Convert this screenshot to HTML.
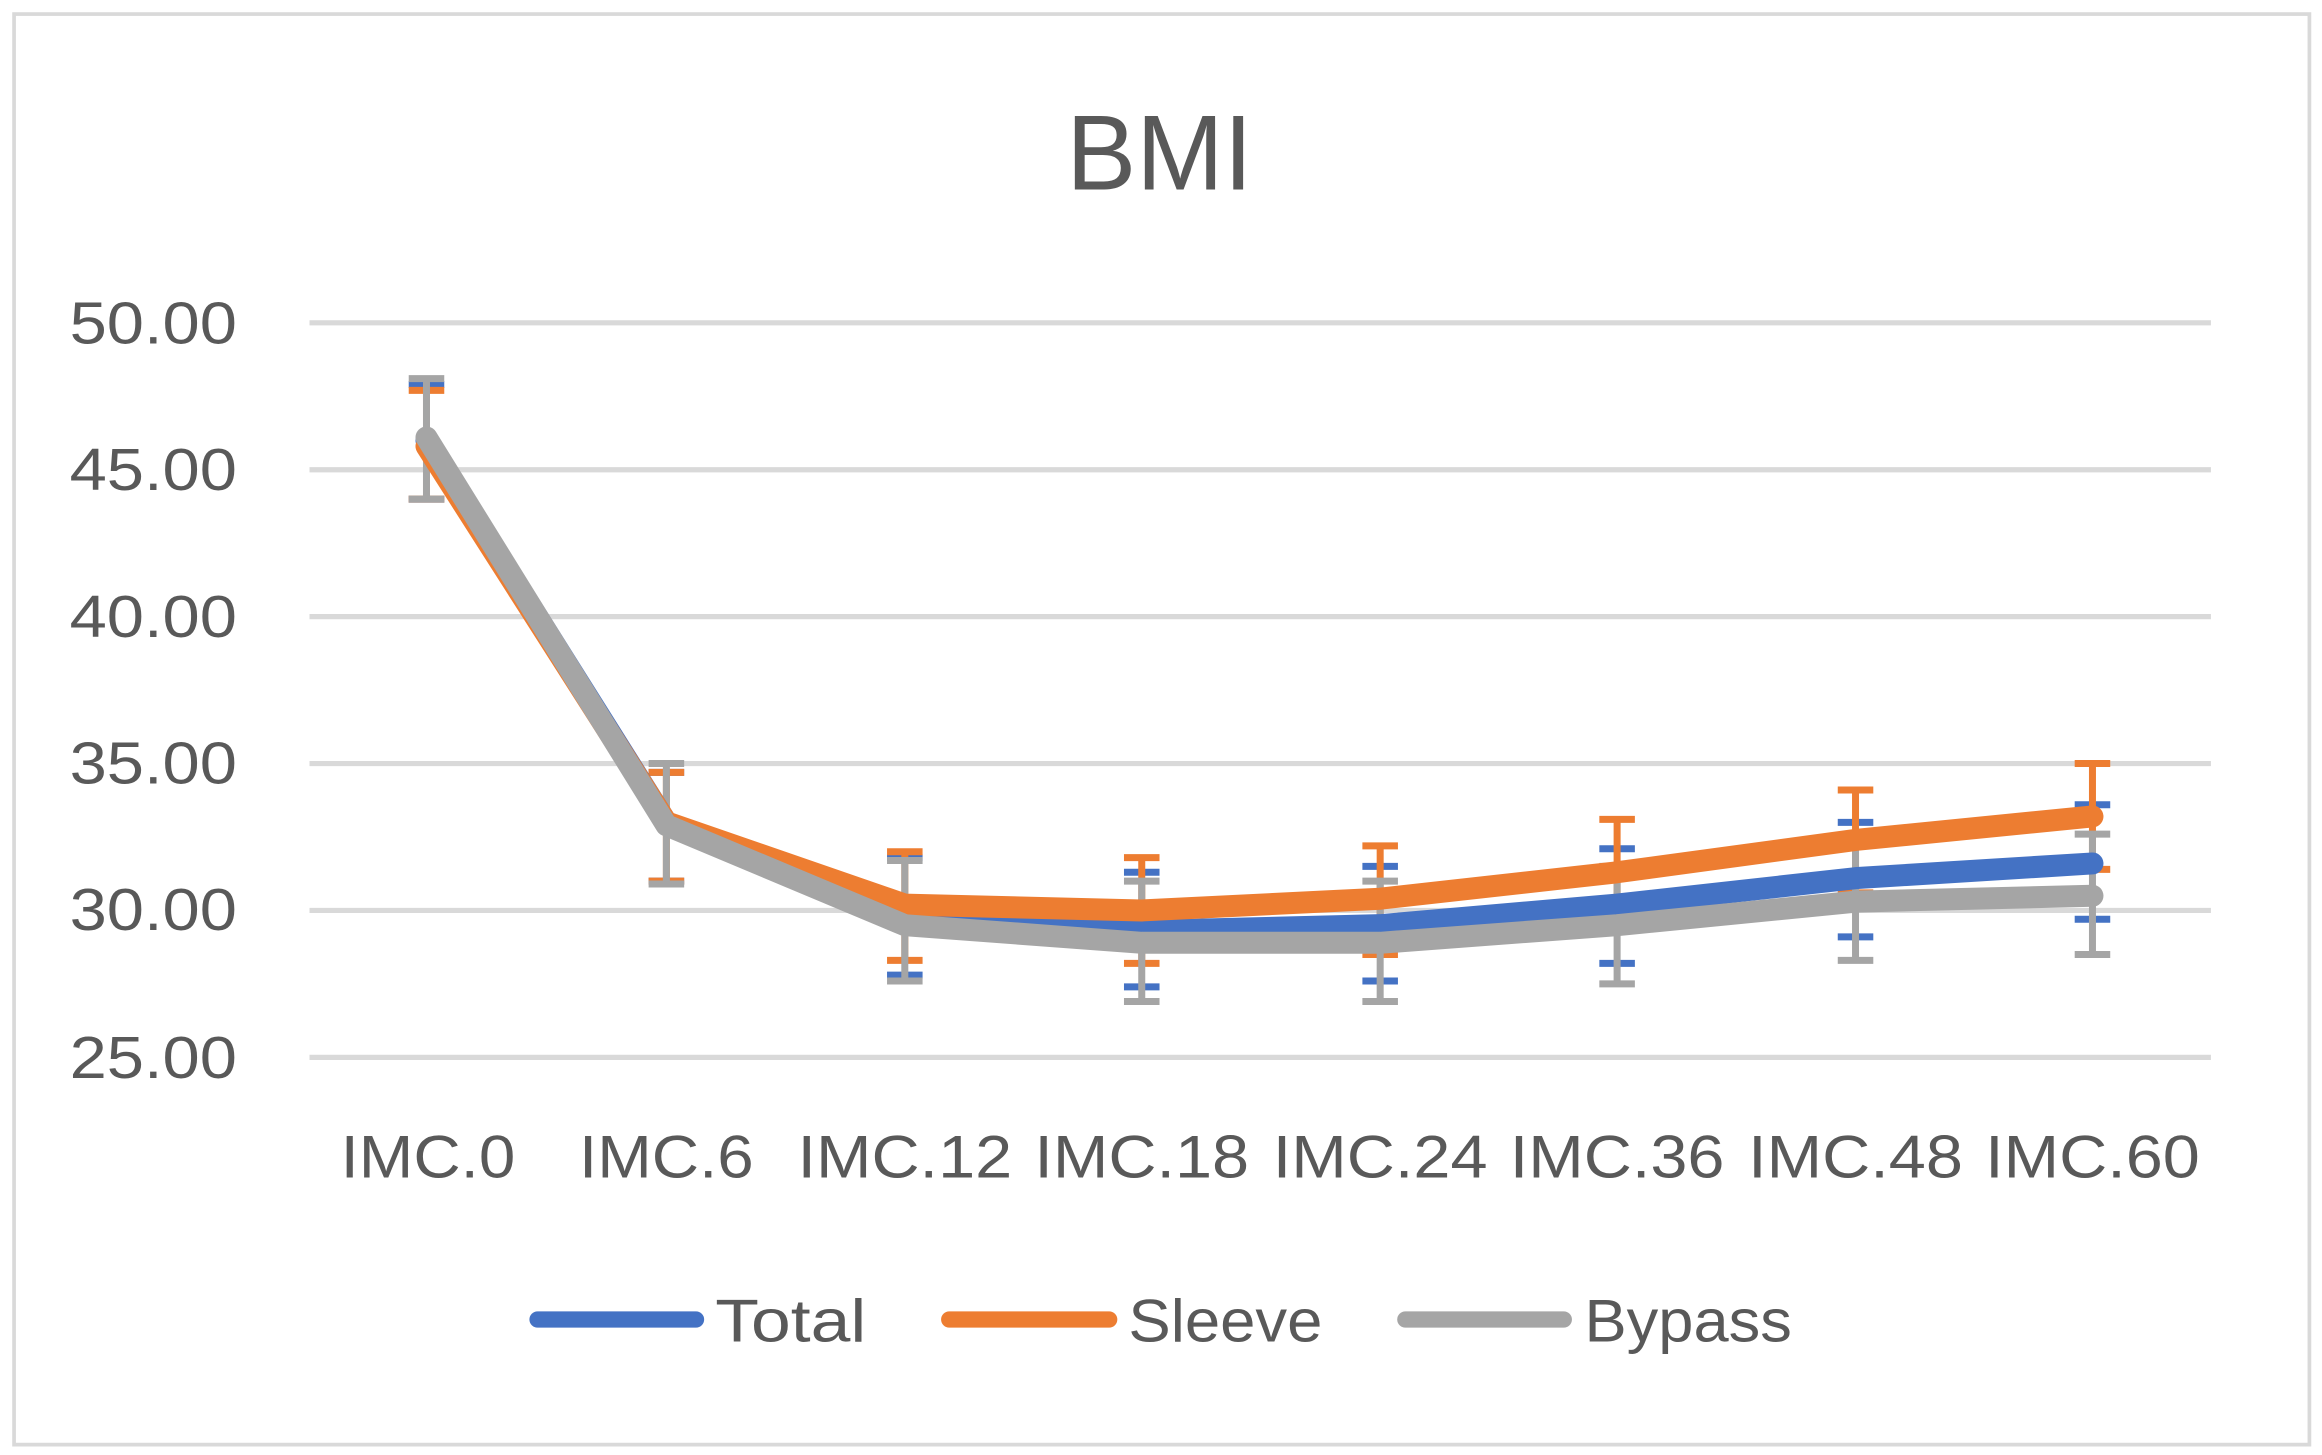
<!DOCTYPE html>
<html><head><meta charset="utf-8"><style>html,body{margin:0;padding:0;background:#fff}svg{display:block}</style></head>
<body>
<svg width="2322" height="1455" viewBox="0 0 1568 982.5" preserveAspectRatio="none" xmlns="http://www.w3.org/2000/svg" font-family="'Liberation Sans', sans-serif" fill="#595959">
<rect x="0" y="0" width="1568" height="982.5" fill="#fff"/>
<rect x="9.5" y="9.5" width="1550" height="966" fill="none" stroke="#d9d9d9" stroke-width="2.5"/>
<text x="783" y="128" font-size="72" text-anchor="middle" textLength="126" lengthAdjust="spacingAndGlyphs">BMI</text>
<g stroke="#d9d9d9" stroke-width="3.5">
<line x1="209" x2="1493" y1="218" y2="218"/><line x1="209" x2="1493" y1="317.2" y2="317.2"/><line x1="209" x2="1493" y1="416.4" y2="416.4"/><line x1="209" x2="1493" y1="515.6" y2="515.6"/><line x1="209" x2="1493" y1="614.8" y2="614.8"/><line x1="209" x2="1493" y1="714" y2="714"/>
</g>
<g font-size="40" text-anchor="end">
<text x="160" y="232" textLength="113" lengthAdjust="spacingAndGlyphs">50.00</text>
<text x="160" y="331" textLength="113" lengthAdjust="spacingAndGlyphs">45.00</text>
<text x="160" y="430" textLength="113" lengthAdjust="spacingAndGlyphs">40.00</text>
<text x="160" y="529" textLength="113" lengthAdjust="spacingAndGlyphs">35.00</text>
<text x="160" y="628" textLength="113" lengthAdjust="spacingAndGlyphs">30.00</text>
<text x="160" y="728" textLength="113" lengthAdjust="spacingAndGlyphs">25.00</text>
</g>
<g font-size="41" text-anchor="middle">
<text x="289" y="795" textLength="118" lengthAdjust="spacingAndGlyphs">IMC.0</text>
<text x="450" y="795" textLength="118" lengthAdjust="spacingAndGlyphs">IMC.6</text>
<text x="611" y="795" textLength="145" lengthAdjust="spacingAndGlyphs">IMC.12</text>
<text x="771" y="795" textLength="145" lengthAdjust="spacingAndGlyphs">IMC.18</text>
<text x="932" y="795" textLength="145" lengthAdjust="spacingAndGlyphs">IMC.24</text>
<text x="1092" y="795" textLength="145" lengthAdjust="spacingAndGlyphs">IMC.36</text>
<text x="1253" y="795" textLength="145" lengthAdjust="spacingAndGlyphs">IMC.48</text>
<text x="1413" y="795" textLength="145" lengthAdjust="spacingAndGlyphs">IMC.60</text>
</g>
<g transform="matrix(1,0,0,-19.84,0,1210)" fill="none" stroke-linecap="round" stroke-linejoin="round">
<path vector-effect="non-scaling-stroke" stroke="#4472c4" stroke-width="7" stroke-linecap="butt" d="M276 47.9H300M276 44H300M438 34.7H462M438 31H462M599 31.8H623M599 27.8H623M759 31.3H783M759 27.4H783M920 31.5H944M920 27.6H944M1080 32.1H1104M1080 28.2H1104M1241 33H1265M1241 29.1H1265M1401 33.6H1425M1401 29.7H1425"/>
<path vector-effect="non-scaling-stroke" stroke="#ed7d31" stroke-width="7" stroke-linecap="butt" d="M288 47.7V44M276 47.7H300M276 44H300M450 34.7V31M438 34.7H462M438 31H462M611 32V28.3M599 32H623M599 28.3H623M771 31.8V28.2M759 31.8H783M759 28.2H783M932 32.2V28.5M920 32.2H944M920 28.5H944M1092 33.1V29.5M1080 33.1H1104M1080 29.5H1104M1253 34.1V30.6M1241 34.1H1265M1241 30.6H1265M1413 35V31.4M1401 35H1425M1401 31.4H1425"/>
<path vector-effect="non-scaling-stroke" stroke="#a5a5a5" stroke-width="7" stroke-linecap="butt" d="M288 48.1V44M276 48.1H300M276 44H300M450 35V30.9M438 35H462M438 30.9H462M611 31.7V27.6M599 31.7H623M599 27.6H623M771 31V26.9M759 31H783M759 26.9H783M932 31V26.9M920 31H944M920 26.9H944M1092 31.5V27.5M1080 31.5H1104M1080 27.5H1104M1253 32.3V28.3M1241 32.3H1265M1241 28.3H1265M1413 32.6V28.5M1401 32.6H1425M1401 28.5H1425"/>
<polyline vector-effect="non-scaling-stroke" stroke="#4472c4" stroke-width="22" points="288,46 450,33 611,29.7 771,29.3 932,29.5 1092,30.2 1253,31.1 1413,31.6"/>
<polyline vector-effect="non-scaling-stroke" stroke="#ed7d31" stroke-width="22" points="288,45.8 450,33 611,30.2 771,30.0 932,30.4 1092,31.3 1253,32.4 1413,33.2"/>
<polyline vector-effect="non-scaling-stroke" stroke="#a5a5a5" stroke-width="22" points="288,46.1 450,32.9 611,29.5 771,28.9 932,28.9 1092,29.5 1253,30.3 1413,30.5"/>
</g>
<g stroke-width="11" stroke-linecap="round">
<line x1="363" x2="470" y1="891" y2="891" stroke="#4472c4"/>
<line x1="641" x2="749" y1="891" y2="891" stroke="#ed7d31"/>
<line x1="949" x2="1056" y1="891" y2="891" stroke="#a5a5a5"/>
</g>
<g font-size="41">
<text x="483" y="906" textLength="102" lengthAdjust="spacingAndGlyphs">Total</text>
<text x="762" y="906" textLength="131" lengthAdjust="spacingAndGlyphs">Sleeve</text>
<text x="1070" y="906" textLength="140" lengthAdjust="spacingAndGlyphs">Bypass</text>
</g>
</svg>
</body></html>
